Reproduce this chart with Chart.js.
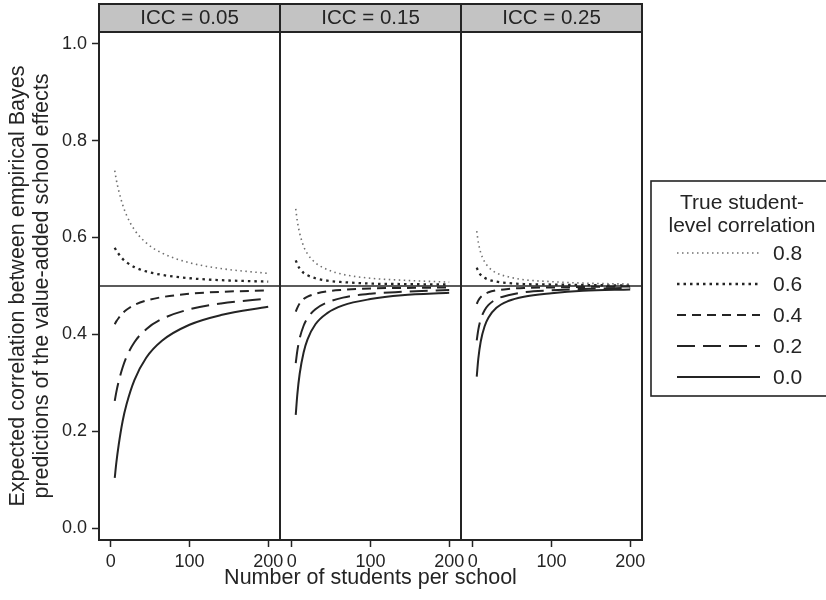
<!DOCTYPE html>
<html>
<head>
<meta charset="utf-8">
<title>Expected correlation of EB value-added predictions</title>
<script src="https://cdn.jsdelivr.net/npm/chart.js@4.4.1/dist/chart.umd.min.js"></script>
<style>
  html, body { margin: 0; padding: 0; background: #fff; }
  #wrap { position: relative; width: 826px; height: 600px; }
  #wrap canvas { position: absolute; left: 0; top: 0; }
</style>
</head>
<body>
<div id="wrap">
  <canvas id="p1" width="826" height="600"></canvas>
  <canvas id="p2" width="826" height="600"></canvas>
  <canvas id="p3" width="826" height="600"></canvas>
</div>
<script>
// x: number of students per school
const students = [5, 7, 10, 15, 20, 30, 45, 65, 100, 140, 200];
const xTicks = [0, 100, 200];
const yTicks = [0, 0.2, 0.4, 0.6, 0.8, 1.0];
const refLevel = 0.5;  // true school-level correlation
const iccLabels = ['ICC = 0.05', 'ICC = 0.15', 'ICC = 0.25'];
const corrLabels = ['0.8', '0.6', '0.4', '0.2', '0.0'];

// ICC = 0.05
const icc05r8 = [0.738, 0.719, 0.697, 0.668, 0.646, 0.616, 0.589, 0.568, 0.548, 0.536, 0.526];
const icc05r6 = [0.579, 0.573, 0.566, 0.556, 0.549, 0.539, 0.530, 0.523, 0.516, 0.512, 0.509];
const icc05r4 = [0.421, 0.427, 0.434, 0.444, 0.451, 0.461, 0.470, 0.477, 0.484, 0.488, 0.491];
const icc05r2 = [0.263, 0.281, 0.303, 0.332, 0.354, 0.384, 0.411, 0.432, 0.452, 0.464, 0.474];
const icc05r0 = [0.104, 0.135, 0.172, 0.221, 0.256, 0.306, 0.352, 0.387, 0.420, 0.440, 0.457];

// ICC = 0.15
const icc15r8 = [0.659, 0.634, 0.609, 0.582, 0.566, 0.548, 0.534, 0.524, 0.516, 0.512, 0.508];
const icc15r6 = [0.553, 0.545, 0.536, 0.527, 0.522, 0.516, 0.511, 0.508, 0.505, 0.504, 0.503];
const icc15r4 = [0.447, 0.455, 0.464, 0.473, 0.478, 0.484, 0.489, 0.492, 0.495, 0.496, 0.497];
const icc15r2 = [0.341, 0.366, 0.392, 0.418, 0.434, 0.452, 0.466, 0.476, 0.484, 0.488, 0.492];
const icc15r0 = [0.234, 0.276, 0.319, 0.363, 0.390, 0.421, 0.444, 0.460, 0.473, 0.481, 0.486];

// ICC = 0.25
const icc25r8 = [0.613, 0.590, 0.569, 0.550, 0.539, 0.527, 0.519, 0.513, 0.509, 0.506, 0.504];
const icc25r6 = [0.538, 0.530, 0.523, 0.517, 0.513, 0.509, 0.506, 0.504, 0.503, 0.502, 0.501];
const icc25r4 = [0.463, 0.470, 0.477, 0.483, 0.487, 0.491, 0.494, 0.496, 0.497, 0.498, 0.499];
const icc25r2 = [0.388, 0.410, 0.431, 0.450, 0.461, 0.473, 0.481, 0.487, 0.491, 0.494, 0.496];
const icc25r0 = [0.313, 0.350, 0.385, 0.417, 0.435, 0.455, 0.469, 0.478, 0.485, 0.490, 0.493];

const panels = [
  [icc05r8, icc05r6, icc05r4, icc05r2, icc05r0],
  [icc15r8, icc15r6, icc15r4, icc15r2, icc15r0],
  [icc25r8, icc25r6, icc25r4, icc25r2, icc25r0]
];

const FONT = "'Liberation Sans', Arial, sans-serif";
const INK = '#242424';

// dotted / dashed styles per student-level correlation
const lineStyles = [
  { color: '#707070', width: 1.6, dash: [1.5, 3.5] },
  { color: INK, width: 2.3, dash: [2.5, 4] },
  { color: INK, width: 2, dash: [9, 6] },
  { color: INK, width: 2, dash: [18, 8] },
  { color: INK, width: 2, dash: [] }
];

const panelEdges = [[99, 280], [280, 461], [461, 642]];

// frame, 0.5 reference line, grey strip label and (middle panel) x title
const panelFrame = {
  id: 'panelFrame',
  afterDatasetsDraw(chart, args, opts) {
    const { ctx, chartArea: a } = chart;
    const yr = chart.scales.y.getPixelForValue(refLevel);
    const cx = (a.left + a.right) / 2;
    ctx.save();
    ctx.strokeStyle = INK;
    ctx.lineWidth = 1.6;
    ctx.beginPath();
    ctx.moveTo(a.left, yr);
    ctx.lineTo(a.right, yr);
    ctx.stroke();

    ctx.lineWidth = 2;
    ctx.strokeRect(a.left, a.top, a.width, a.height);

    ctx.fillStyle = '#c3c3c3';
    ctx.fillRect(a.left, 4, a.width, a.top - 4);
    ctx.strokeRect(a.left, 4, a.width, a.top - 4);

    ctx.fillStyle = INK;
    ctx.font = '20.5px ' + FONT;
    ctx.textAlign = 'center';
    ctx.textBaseline = 'middle';
    ctx.fillText(opts.text, cx, 18);

    if (opts.xTitle) {
      ctx.font = '21.5px ' + FONT;
      ctx.fillText(opts.xTitle, cx, 578);
    }
    ctx.restore();
  }
};

// key box on the right, drawn from the datasets' own styles
const keyBox = {
  id: 'keyBox',
  afterDraw(chart, args, opts) {
    if (!opts.show) return;
    const ctx = chart.ctx;
    ctx.save();
    ctx.strokeStyle = INK;
    ctx.lineWidth = 1.6;
    ctx.strokeRect(651, 181, 183, 215);

    ctx.fillStyle = INK;
    ctx.font = '21px ' + FONT;
    ctx.textAlign = 'center';
    ctx.textBaseline = 'middle';
    ctx.fillText('True student-', 742, 203);
    ctx.fillText('level correlation', 742, 226);

    ctx.textAlign = 'left';
    chart.data.datasets.forEach((ds, k) => {
      const y = 253 + k * 31;
      ctx.strokeStyle = ds.borderColor;
      ctx.lineWidth = ds.borderWidth;
      ctx.setLineDash(ds.borderDash);
      ctx.beginPath();
      ctx.moveTo(677, y);
      ctx.lineTo(760, y);
      ctx.stroke();
      ctx.setLineDash([]);
      ctx.fillText(ds.label, 773, y + 1);
    });
    ctx.restore();
  }
};

function makePanel(id, idx) {
  const [left, right] = panelEdges[idx];
  const first = idx === 0;
  return new Chart(document.getElementById(id), {
    type: 'line',
    data: {
      datasets: panels[idx].map((vals, k) => ({
        label: corrLabels[k],
        data: students.map((n, i) => ({ x: n, y: vals[i] })),
        borderColor: lineStyles[k].color,
        borderWidth: lineStyles[k].width,
        borderDash: lineStyles[k].dash,
        borderCapStyle: 'butt',
        pointRadius: 0,
        cubicInterpolationMode: 'monotone',
        fill: false
      }))
    },
    options: {
      responsive: false,
      animation: false,
      devicePixelRatio: 1,
      events: [],
      layout: { padding: { left: first ? 0 : left, right: 826 - right, top: 32, bottom: 0 } },
      plugins: {
        legend: { display: false },
        tooltip: { enabled: false },
        panelFrame: {
          text: iccLabels[idx],
          xTitle: idx === 1 ? 'Number of students per school' : ''
        },
        keyBox: { show: idx === 2 }
      },
      scales: {
        x: {
          type: 'linear',
          min: -15,
          max: 215,
          afterBuildTicks: s => { s.ticks = xTicks.map(v => ({ value: v })); },
          afterFit: s => { s.height = 60; },
          grid: { drawOnChartArea: false, drawTicks: true, tickLength: 7, tickWidth: 1.5, tickColor: INK },
          border: { display: false },
          ticks: {
            padding: 4, color: INK, autoSkip: false, maxRotation: 0,
            font: { family: FONT, size: 18 },
            callback: v => String(v)
          }
        },
        y: {
          type: 'linear',
          display: first,
          min: -0.024,
          max: 1.024,
          afterBuildTicks: s => { s.ticks = yTicks.map(v => ({ value: v })); },
          afterFit: s => { s.width = first ? 99 : 0; },
          grid: { drawOnChartArea: false, drawTicks: true, tickLength: 7, tickWidth: 1.5, tickColor: INK },
          border: { display: false },
          ticks: {
            padding: 5, color: INK, autoSkip: false,
            font: { family: FONT, size: 18 },
            callback: v => v.toFixed(1)
          },
          title: {
            display: true,
            text: ['Expected correlation between empirical Bayes',
                   'predictions of the value-added school effects'],
            color: INK,
            font: { family: FONT, size: 21.5, lineHeight: 1.12 },
            padding: { top: 6, bottom: 0 }
          }
        }
      }
    },
    plugins: [panelFrame, keyBox]
  });
}

makePanel('p1', 0);
makePanel('p2', 1);
makePanel('p3', 2);
</script>
</body>
</html>
